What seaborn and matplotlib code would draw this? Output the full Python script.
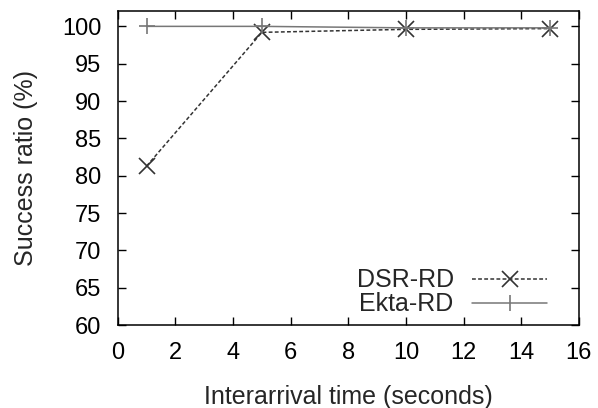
import matplotlib
matplotlib.use("Agg")
import matplotlib.pyplot as plt
import seaborn as sns
import pandas as pd
from matplotlib.lines import Line2D

x_vals = [1, 5, 10, 15]
dsr_rd = [81.3, 99.2, 99.6, 99.7]
ekta_rd = [100.0, 100.0, 99.8, 99.8]
x_ticks = [0, 2, 4, 6, 8, 10, 12, 14, 16]
y_ticks = [60, 65, 70, 75, 80, 85, 90, 95, 100]

df = pd.DataFrame({
    "x": x_vals * 2,
    "y": dsr_rd + ekta_rd,
    "series": ["DSR-RD"] * len(x_vals) + ["Ekta-RD"] * len(x_vals),
})

sns.set_style("ticks")
plt.rcParams["font.family"] = ["Liberation Sans", "DejaVu Sans"]

fig = plt.figure(figsize=(5.98, 4.08), dpi=100)
ax = fig.add_axes([0.197, 0.203, 0.771, 0.769])

colors = {"DSR-RD": "#333333", "Ekta-RD": "#777777"}
sns.lineplot(data=df, x="x", y="y", hue="series", style="series",
             palette=colors,
             dashes={"DSR-RD": (2.5, 1.5), "Ekta-RD": ""},
             markers={"DSR-RD": "x", "Ekta-RD": "+"},
             markersize=12, linewidth=1.1,
             ax=ax, legend=False)
for ln in ax.lines:
    ln.set_markeredgecolor(ln.get_color())
    ln.set_markeredgewidth(1.2)

ax.set_xlim(0, 16)
ax.set_ylim(60, 102)
ax.set_xticks(x_ticks)
ax.set_yticks(y_ticks)
ax.tick_params(direction="in", top=True, right=True, length=6, width=1,
               labelsize=17, colors="black", pad=12)
for s in ax.spines.values():
    s.set_visible(True)
    s.set_linewidth(1.1)
    s.set_color("black")
ax.set_xlabel("Interarrival time (seconds)", fontsize=18, labelpad=15)
ax.set_ylabel("Success ratio (%)", fontsize=18, labelpad=17)

handles = [
    Line2D([], [], color="#333333", linestyle=(0, (2.5, 1.5)), marker="x",
           markersize=11, markeredgewidth=1.2, linewidth=1.1),
    Line2D([], [], color="#777777", linestyle="-", marker="|",
           markersize=11, markeredgewidth=1.2, linewidth=1.1),
]
ax.legend(handles, ["DSR-RD", "Ekta-RD"], loc="lower right", frameon=False,
          markerfirst=False, fontsize=18, handlelength=3.0,
          labelspacing=0.0, handletextpad=0.75, borderpad=0.0,
          bbox_to_anchor=(0.959, -0.012))

fig.savefig("out.png", dpi=100)
